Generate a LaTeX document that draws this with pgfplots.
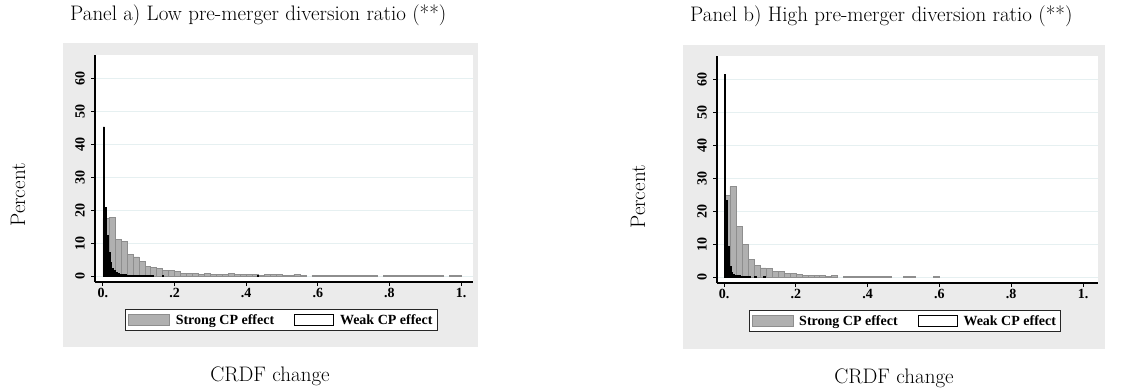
\documentclass[border=0pt]{standalone}
\usepackage{pgfplots}
\pgfplotsset{compat=1.18}
\usepackage{fontspec}
\newfontfamily\tfont{Liberation Serif}
\definecolor{bgc}{RGB}{235,235,235}
\definecolor{gridc}{RGB}{230,240,241}
\definecolor{strongfill}{RGB}{176,176,176}
\definecolor{strongdraw}{RGB}{142,142,142}
\pgfplotsset{
  panel/.style={
    anchor=south west, scale only axis,
    width=379pt, height=227pt,
    ymin=-1.82, ymax=67,
    axis x line*=bottom, axis y line*=left,
    axis line style={line width=1.2pt, -, black},
    axis background/.style={fill=white},
    xtick={0,0.2,0.4,0.6,0.8,1},
    xticklabels={0.,.2,.4,.6,.8,1.},
    ytick={0,10,20,30,40,50,60},
    yticklabels={0,10,20,30,40,50,60},
    xtick pos=bottom, ytick pos=left,
    tick align=outside, major tick length=4pt,
    tick style={line width=1pt, black},
    ymajorgrids, grid style={gridc, line width=1pt},
    /pgf/number format/assume math mode=true,
    ticklabel style={font=\tfont\bfseries\fontsize{14}{14}\selectfont, inner sep=0pt},
    yticklabel style={rotate=90, anchor=south},
    yticklabel shift=6pt,
    xticklabel style={anchor=north},
    xticklabel shift=2pt,
    legend columns=2,
    legend style={at={(0.493,-0.119)}, anchor=north,
      draw=black!85, line width=0.7pt, fill=white,
      inner xsep=2.5pt, inner ysep=2pt,
      font=\tfont\bfseries\fontsize{14}{14}\selectfont,
      nodes={inner xsep=2pt, inner ysep=3pt},
      /tikz/every odd column/.append style={column sep=4pt},
      /tikz/every even column/.append style={column sep=18pt}},
  },
  strong/.style={ybar, bar shift=0pt, bar width=0.0166667,
    fill=strongfill, draw=strongdraw, line width=0.5pt,
    legend image code/.code={\draw[fill=strongfill, draw=strongdraw, line width=0.6pt] (0pt,-5.5pt) rectangle (41pt,5.5pt);}},
  weak/.style={ybar, bar shift=0pt, bar width=0.0045,
    fill=black, draw=black, line width=0.8pt,
    legend image code/.code={\draw[fill=white, draw=black, line width=0.8pt] (0pt,-5.5pt) rectangle (39pt,5.5pt);}},
}
\begin{document}
\begin{tikzpicture}
\begin{scope}[x=1pt,y=-1pt]
\path[use as bounding box] (0,0) rectangle (1126,389);
\fill[bgc] (63,43) rectangle (478,347);
\fill[bgc] (683,45) rectangle (1105,349);
\node[anchor=base west, inner sep=0, font=\fontsize{21}{25}\selectfont] at (70,20) {Panel a) Low pre-merger diversion ratio (**)};
\node[anchor=base west, inner sep=0, font=\fontsize{21}{25}\selectfont] at (690,21) {Panel b) High pre-merger diversion ratio (**)};
\node[rotate=90, anchor=base, inner sep=0, font=\fontsize{21}{25}\selectfont] at (25,195) {Percent};
\node[rotate=90, anchor=base, inner sep=0, font=\fontsize{21}{25}\selectfont] at (645,197) {Percent};
\node[anchor=base, inner sep=0, font=\fontsize{21}{25}\selectfont] at (270,381) {CRDF change};
\node[anchor=base, inner sep=0, font=\fontsize{21}{25}\selectfont] at (894,383) {CRDF change};
\end{scope}

% Panel a
\begin{axis}[panel, at={(95pt,-282pt)}, width=378pt,
  xmin=-0.0223, xmax=1.0335]
\addplot[strong] coordinates {
(0.00833,17.5) (0.025,17.8) (0.04167,11.2) (0.05833,10.6) (0.075,6.6)
(0.09167,5.8) (0.10833,4.5) (0.125,3.0) (0.14167,2.7) (0.15833,2.3)
(0.175,1.8) (0.19167,1.7) (0.20833,1.3) (0.225,0.9) (0.24167,0.7)
(0.25833,0.7) (0.275,0.6) (0.29167,0.7) (0.30833,0.6) (0.325,0.5)
(0.34167,0.6) (0.35833,0.8) (0.375,0.6) (0.39167,0.5) (0.40833,0.4)
(0.425,0.5) (0.44167,0.3) (0.45833,0.4) (0.475,0.5) (0.49167,0.4)
(0.50833,0.3) (0.525,0.3) (0.54167,0.6) (0.55833,0.3)
(0.59167,0.2) (0.60833,0.3) (0.625,0.3) (0.64167,0.3) (0.65833,0.3)
(0.675,0.3) (0.69167,0.2) (0.70833,0.2) (0.725,0.2) (0.74167,0.2)
(0.75833,0.2) (0.79167,0.2) (0.80833,0.2) (0.825,0.2) (0.84167,0.2)
(0.85833,0.2) (0.875,0.2) (0.89167,0.2) (0.90833,0.2) (0.925,0.2)
(0.94167,0.2) (0.975,0.2) (0.99167,0.2)
};
\addlegendentry{Strong CP effect}
\addplot[weak] coordinates {
(0.0025,45.2) (0.0075,20.9) (0.0125,12.4) (0.0175,7.2) (0.0225,4.1)
(0.0275,2.4) (0.0325,1.6) (0.0375,1.1) (0.0425,0.8) (0.0475,0.6)
(0.0525,0.5) (0.0575,0.4) (0.0625,0.35) (0.0675,0.3) (0.0725,0.3)
(0.0775,0.25) (0.0825,0.2) (0.0875,0.2) (0.0925,0.2) (0.0975,0.2)
(0.1025,0.15) (0.1075,0.2) (0.1125,0.15) (0.1175,0.15) (0.1225,0.2)
(0.1275,0.15) (0.1325,0.1) (0.1375,0.15) (0.1675,0.15) (0.4325,0.3)
};
\addlegendentry{Weak CP effect}
\end{axis}

% Panel b
\begin{axis}[panel, at={(717pt,-283pt)}, width=381pt,
  xmin=-0.0195, xmax=1.0418]
\addplot[strong] coordinates {
(0.00833,24.8) (0.025,27.4) (0.04167,15.4) (0.05833,9.9) (0.075,5.3)
(0.09167,3.5) (0.10833,2.8) (0.125,2.7) (0.14167,1.8) (0.15833,1.6)
(0.175,1.2) (0.19167,1.0) (0.20833,0.9) (0.225,0.6) (0.24167,0.5)
(0.25833,0.5) (0.275,0.4) (0.29167,0.3) (0.30833,0.5)
(0.34167,0.2) (0.35833,0.2) (0.375,0.15) (0.39167,0.2) (0.40833,0.2)
(0.425,0.2) (0.44167,0.15) (0.45833,0.2)
(0.50833,0.2) (0.525,0.15) (0.59167,0.2)
};
\addlegendentry{Strong CP effect}
\addplot[weak] coordinates {
(0.0025,61.3) (0.0075,23.3) (0.0125,9.3) (0.0175,3.2) (0.0225,1.3)
(0.0275,0.8) (0.0325,0.6) (0.0375,0.4) (0.0425,0.35) (0.0475,0.3)
(0.0525,0.25) (0.0575,0.2) (0.0625,0.2) (0.0675,0.15) (0.0725,0.1)
(0.0875,0.15) (0.1125,0.15)
};
\addlegendentry{Weak CP effect}
\end{axis}
\end{tikzpicture}
\end{document}
